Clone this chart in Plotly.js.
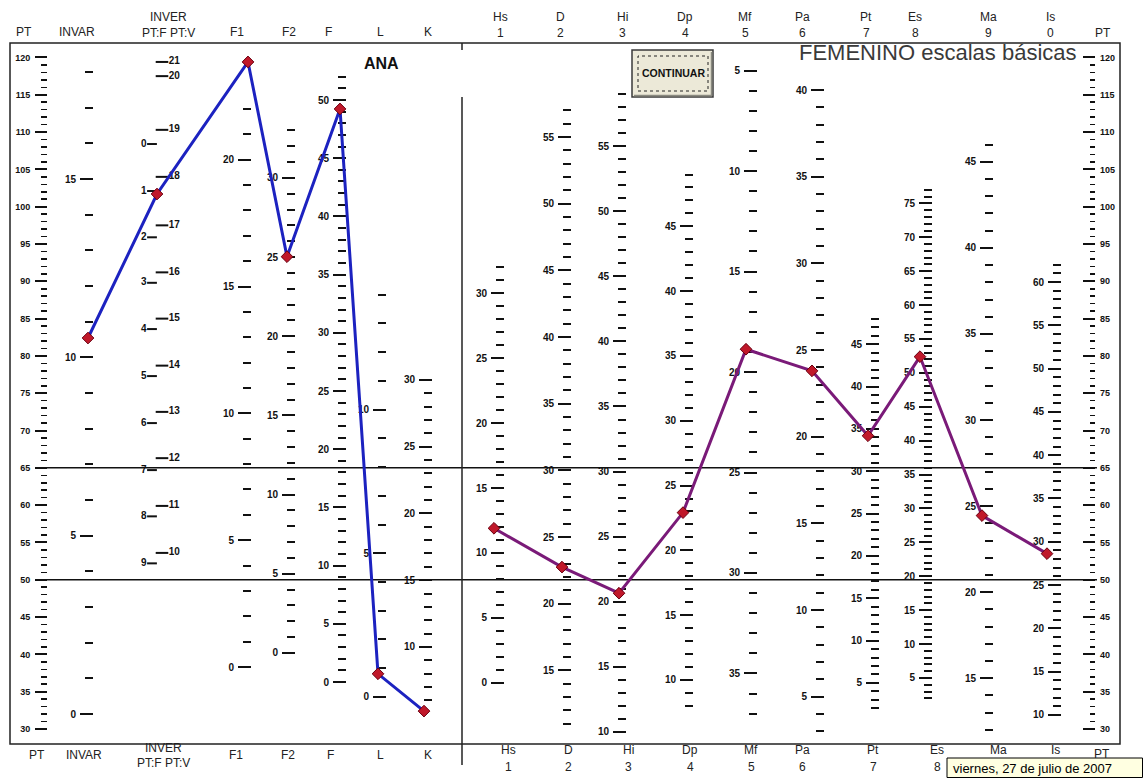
<!DOCTYPE html>
<html><head><meta charset="utf-8">
<script src="https://cdn.plot.ly/plotly-3.0.1.min.js"></script>
<style>html,body{margin:0;padding:0;background:#fff;overflow:hidden}#chart{width:1143px;height:778px}</style>
</head><body><div id="chart"></div>
<script>
// ================= DATA =================
// Profile T-scores (validity scales, left panel)
const leftScales = ['INVAR','INVER','F1','F2','F','L','K'];
const leftT = [82.4, 101.7, 119.4, 93.3, 113.1, 37.4, 32.4];
// Profile T-scores (basic clinical scales, right panel)
const rightScales = ['Hs','D','Hi','Dp','Mf','Pa','Pt','Es','Ma','Is'];
const rightT = [56.9, 51.7, 48.2, 59.0, 80.9, 78.0, 69.3, 79.9, 58.6, 53.5];

// Raw-score -> T conversion of each scale column (T = t0 + slope * raw)
const normScales = ['INVAR','F1','F2','F','L','K','Hs','D','Hi','Dp','Mf','Pa','Pt','Es','Ma','Is'];
const normT0    = [32.0, 38.3, 40.2, 36.3, 34.3, 23.1, 36.2, 11.05, 12.15, 19.2, 131.7, 22.7, 30.5, 32.3, 2.2, 20.3];
const normSlope = [4.78, 3.40, 2.122, 1.56, 3.85, 1.79, 1.74, 1.787, 1.745, 1.737, -2.693, 2.323, 1.135, 0.9086, 2.307, 1.16];
const rawMin = [0, 0, 0, 0, 0, 6, 0, 11, 10, 8, 5, 3, 2, 2, 12, 10];
const rawMax = [18, 22, 33, 52, 14, 30, 32, 57, 59, 49, 37, 40, 48, 77, 46, 62];

// INVER column: raw scores and their T positions (PT:F and PT:V)
const inverFRaw = [0,1,2,3,4,5,6,7,8,9];
const inverFT   = [108.4,102.1,95.9,89.8,83.6,77.3,71.0,64.7,58.5,52.2];
const inverVRaw = [21,20,19,18,17,16,15,14,13,12,11,10];
const inverVT   = [119.4,117.5,110.3,104.0,97.5,91.2,85.0,78.7,72.5,66.3,59.9,53.6];

// PT axis tick labels and reference lines
const ptTicks = [30,35,40,45,50,55,60,65,70,75,80,85,90,95,100,105,110,115,120];
const refLines = [65, 50];

// Texts
const headLeft = ['PT','INVAR','F1','F2','F','L','K'];
const headRightName = ['Hs','D','Hi','Dp','Mf','Pa','Pt','Es','Ma','Is'];
const headRightNum  = ['1','2','3','4','5','6','7','8','9','0'];
const titleText = 'FEMENINO escalas básicas';
const nameText = 'ANA';
const buttonText = 'CONTINUAR';
const dateText = 'viernes, 27 de julio de 2007';

// ================= LAYOUT GEOMETRY (pixels) =================
const W = 1143, H = 778;
const PX0 = 10, PX1 = 1120, PY0 = 43, PY1 = 744;
const TMIN = 27.99, TMAX = 121.94;
const px = v => (v - PX0) / (PX1 - PX0);
const py = v => (PY1 - v) / (PY1 - PY0);

const colPos = {INVAR:93, F1:251, F2:295, F:346, L:386, K:432, Hs:504, D:571, Hi:626, Dp:693, Mf:757, Pa:824, Pt:879, Es:932, Ma:993, Is:1061};
const markX = {INVAR:88, INVER:157, F1:248, F2:287, F:340, L:378, K:424, Hs:494, D:562, Hi:619, Dp:683, Mf:746, Pa:812, Pt:868, Es:920, Ma:982, Is:1047};
const headLeftX = [24, 77, 237, 289, 328, 380, 428];
const footLeftX = [37, 84, 236, 288, 330, 380, 428];
const headRightX = [500, 560, 622, 685, 745, 802, 866, 915, 988, 1050];
const footRightX = [508, 568, 628, 690, 751, 802, 873, 937, 998, 1055];
const DATE_X0 = 947;

const FONT = 'Liberation Sans, Arial, sans-serif';
const tickFont = {family: FONT, size: 10, color: '#111', weight: 'bold'};
const ptFont = {family: FONT, size: 9, color: '#111', weight: 'bold'};

function range(a, b) { const r = []; for (let i = a; i <= b; i++) r.push(i); return r; }

const layout = {
  width: W, height: H,
  margin: {l: PX0, r: W - PX1, t: PY0, b: H - PY1, pad: 0},
  paper_bgcolor: '#ffffff', plot_bgcolor: '#ffffff',
  showlegend: false,
  xaxis: {range: [PX0, PX1], visible: false, fixedrange: true},
  yaxis: {
    range: [TMIN, TMAX], anchor: 'free', position: px(47), side: 'left',
    tickmode: 'array', tickvals: ptTicks, ticktext: ptTicks.map(String),
    ticks: 'outside', ticklen: 12, tickwidth: 2, tickcolor: '#111',
    minor: {tickmode: 'array', tickvals: range(ptTicks[0], ptTicks[ptTicks.length-1]), ticks: 'outside', ticklen: 6, tickwidth: 1.5, tickcolor: '#111'},
    showgrid: false, zeroline: false, showline: false,
    tickfont: ptFont, ticklabelstandoff: 3, layer: 'below traces', fixedrange: true
  },
  shapes: [], annotations: []
};

const traces = [];
normScales.forEach((s, i) => {
  const k = i + 2;
  const a = normT0[i], b = normSlope[i];
  const minors = range(rawMin[i], rawMax[i]);
  const majors = minors.filter(v => v % 5 === 0);
  layout['yaxis' + k] = {
    overlaying: 'y', anchor: 'free', position: px(colPos[s]), side: 'left',
    range: [(TMIN - a) / b, (TMAX - a) / b],
    tickmode: 'array', tickvals: majors, ticktext: majors.map(String),
    ticks: 'outside', ticklen: 13, tickwidth: 2, tickcolor: '#111',
    minor: {tickmode: 'array', tickvals: minors, ticks: 'outside', ticklen: 8, tickwidth: 2, tickcolor: '#111'},
    showgrid: false, zeroline: false, showline: false,
    tickfont: tickFont, ticklabelstandoff: 2, layer: 'below traces', fixedrange: true
  };
  traces.push({type: 'scatter', x: [null], y: [null], yaxis: 'y' + k, hoverinfo: 'skip', showlegend: false});
});
// right PT axis
const kR = normScales.length + 2;
layout['yaxis' + kR] = {
  overlaying: 'y', anchor: 'free', position: px(1095), side: 'right',
  range: [TMIN, TMAX],
  tickmode: 'array', tickvals: ptTicks, ticktext: ptTicks.map(String),
  ticks: 'inside', ticklen: 12, tickwidth: 2, tickcolor: '#111',
  minor: {tickmode: 'array', tickvals: range(ptTicks[0], ptTicks[ptTicks.length-1]), ticks: 'inside', ticklen: 5, tickwidth: 1.5, tickcolor: '#111'},
  showgrid: false, zeroline: false, showline: false,
  tickfont: ptFont, ticklabelstandoff: 4, layer: 'below traces', fixedrange: true
};
traces.push({type: 'scatter', x: [null], y: [null], yaxis: 'y' + kR, hoverinfo: 'skip', showlegend: false});

// INVER columns
traces.push({
  type: 'scatter', mode: 'markers+text', x: inverFRaw.map(() => 152), y: inverFT,
  text: inverFRaw.map(String), textposition: 'middle left', textfont: tickFont,
  marker: {symbol: 'line-ew', size: 7, line: {width: 2, color: '#111'}},
  hoverinfo: 'skip', cliponaxis: false
});
traces.push({
  type: 'scatter', mode: 'markers+text', x: inverVRaw.map(() => 162), y: inverVT,
  text: inverVRaw.map(String), textposition: 'middle right', textfont: tickFont,
  marker: {symbol: 'line-ew', size: 9, line: {width: 2, color: '#111'}},
  hoverinfo: 'skip', cliponaxis: false
});

// profiles
traces.push({
  type: 'scatter', mode: 'lines+markers',
  x: leftScales.map(s => markX[s]), y: leftT,
  line: {color: '#1c22c0', width: 3},
  marker: {symbol: 'diamond', size: 9, color: '#c0182a', line: {color: '#6a0010', width: 1}},
  hoverinfo: 'y', cliponaxis: false
});
traces.push({
  type: 'scatter', mode: 'lines+markers',
  x: rightScales.map(s => markX[s]), y: rightT,
  line: {color: '#7a1a78', width: 3},
  marker: {symbol: 'diamond', size: 9, color: '#c0182a', line: {color: '#6a0010', width: 1}},
  hoverinfo: 'y', cliponaxis: false
});

// ---- shapes ----
const S = layout.shapes;
refLines.forEach(t => S.push({type: 'line', xref: 'x', yref: 'y', x0: 35, x1: 1097, y0: t, y1: t, line: {color: '#111', width: 1.5}, layer: 'below'}));
S.push({type: 'rect', xref: 'paper', yref: 'paper', x0: 0, x1: 1, y0: 0, y1: 1, line: {color: '#222', width: 1.5}});
S.push({type: 'line', xref: 'paper', yref: 'paper', x0: px(462), x1: px(462), y0: py(97), y1: py(765), line: {color: '#222', width: 1.5}});
S.push({type: 'line', xref: 'paper', yref: 'paper', x0: px(462), x1: px(462), y0: py(43), y1: py(50), line: {color: '#222', width: 1.5}});
// button
S.push({type: 'rect', xref: 'paper', yref: 'paper', x0: px(632), x1: px(713), y0: py(97), y1: py(50), fillcolor: '#ece9d8', line: {color: '#3a3a3a', width: 1.5}});
S.push({type: 'line', xref: 'paper', yref: 'paper', x0: px(634), x1: px(712), y0: py(95.5), y1: py(95.5), line: {color: '#8a8a80', width: 1.5}});
S.push({type: 'line', xref: 'paper', yref: 'paper', x0: px(711.5), x1: px(711.5), y0: py(52), y1: py(95.5), line: {color: '#8a8a80', width: 1.5}});
S.push({type: 'rect', xref: 'paper', yref: 'paper', x0: px(638), x1: px(708), y0: py(91), y1: py(56), line: {color: '#222', width: 1, dash: 'dot'}});
// date box (tooltip-like, covers the footer digits below it)
S.push({type: 'rect', xref: 'paper', yref: 'paper', x0: px(DATE_X0), x1: px(1142.5), y0: py(777.5), y1: py(758), fillcolor: '#ffffe1', line: {color: '#000', width: 1}});

// ---- annotations ----
const A = layout.annotations;
const headFont = {family: FONT, size: 12, color: '#222'};
function ann(text, x, y, font, xanchor) {
  A.push({text: text, xref: 'paper', yref: 'paper', x: px(x), y: py(y), xanchor: xanchor || 'center', yanchor: 'middle', showarrow: false, font: font || headFont});
}
headLeft.forEach((t, i) => { ann(t, headLeftX[i], 32); ann(t, footLeftX[i], 755); });
ann('INVER', 168, 17); ann('PT:F PT:V', 168, 33);
ann('INVER', 163, 748); ann('PT:F PT:V', 163, 763);
headRightName.forEach((t, i) => {
  ann(t, headRightX[i], 17); ann(headRightNum[i], headRightX[i], 33);
  ann(t, footRightX[i], 750);
  // footer digits that fall under the date box are hidden in the original
  if (footRightX[i] < DATE_X0) ann(headRightNum[i], footRightX[i], 767);
});
ann('PT', 1103, 33); ann('PT', 1102, 754);
ann(titleText, 797, 52, {family: FONT, size: 22, color: '#3a3a3a'}, 'left');
ann(nameText, 362, 63, {family: FONT, size: 16, color: '#111', weight: 'bold'}, 'left');
ann(buttonText, 673, 73, {family: "'Liberation Sans Narrow', " + FONT, size: 10.5, color: '#111', weight: 'bold'});
ann(dateText, 951, 768, {family: FONT, size: 13, color: '#000'}, 'left');

Plotly.newPlot('chart', traces, layout, {staticPlot: true, displayModeBar: false});
</script>
</body></html>
